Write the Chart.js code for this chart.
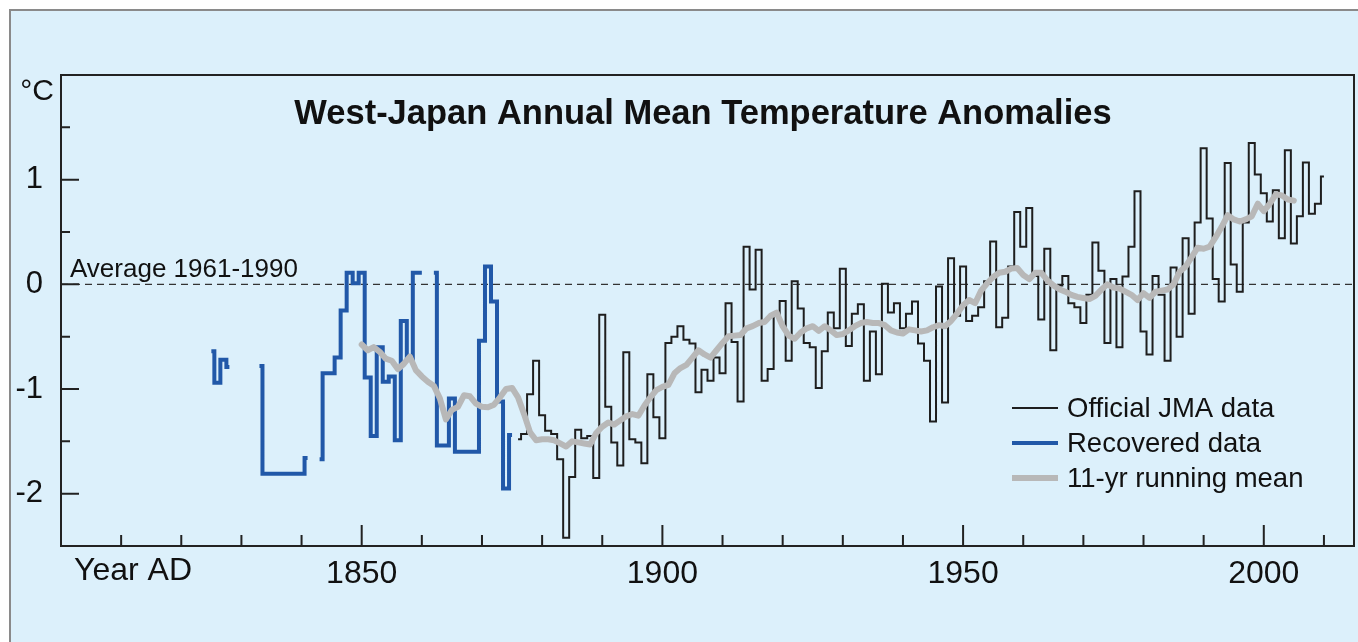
<!DOCTYPE html>
<html>
<head>
<meta charset="utf-8">
<script src="https://cdn.jsdelivr.net/npm/chart.js@4.4.1/dist/chart.umd.min.js"></script>
<style>
  html, body { margin: 0; padding: 0; background: #fff; }
  #wrap { width: 1358px; height: 642px; }
</style>
</head>
<body>
<div id="wrap"><canvas id="chart" width="1358" height="642"></canvas></div>
<script>
// West-Japan annual mean temperature anomalies (deg C, vs 1961-1990)

const FONT = "'Liberation Sans', Arial, Helvetica, sans-serif";
const BG = '#dcf0fb';
const BLUE = '#2158a8';
const GRAY = '#b8b8b8';
const BLACK = '#1e1e1e';

// recovered data 1825-1875 (null = no data)
const recoveredStart = 1825;
const recoveredValues = [
  -0.64, -0.94, -0.72, -0.79, null, null, null, null, -0.78, -1.81,
  -1.81, -1.81, -1.81, -1.81, -1.81, -1.81, -1.66, null, -1.67, -0.85,
  -0.85, -0.70, -0.25, 0.11, 0.01, 0.11, -0.89, -1.45, -0.60, -0.93,
  -0.88, -1.49, -0.35, -0.71, 0.11, 0.11, null, 0.11, -1.54, -1.54,
  -1.09, -1.60, -1.60, -1.60, -1.60, -0.54, 0.17, -0.165, -1.12, -1.95,
  -1.44
];

// official JMA data 1876-2010
const jmaStart = 1876;
const jmaValues = [
  -1.48, -1.43, -1.05, -0.73,
  -1.25, -1.40, -1.43, -1.67, -2.42, -1.84, -1.39, -1.47, -1.45, -1.85,
  -0.29, -1.17, -1.51, -1.73, -0.65, -1.48, -1.51, -1.71, -0.86, -1.27,
  -1.47, -0.56, -0.50, -0.40, -0.53, -0.565, -1.03, -0.815, -0.92, -0.70,
  -0.85, -0.18, -0.55, -1.12, 0.36, -0.05, 0.33, -0.92, -0.81, -0.30,
  -0.16, -0.73, 0.03, -0.23, -0.56, -0.60, -0.99, -0.64, -0.27, -0.42,
  0.15, -0.59, -0.28, -0.19, -0.92, -0.45, -0.86, 0.005, -0.27, -0.18,
  -0.42, -0.28, -0.165, -0.565, -0.73, -1.31, -0.02, -1.13, 0.25, -0.30,
  0.17, -0.35, -0.30, -0.22, 0.03, 0.41, -0.41, -0.32, 0.17, 0.69,
  0.36, 0.73, 0.08, -0.335, 0.34, -0.63, -0.01, 0.08, -0.18, -0.22,
  -0.37, -0.10, 0.40, 0.13, -0.56, 0.05, -0.60, 0.075, 0.36, 0.89,
  -0.45, -0.67, 0.08, -0.10, -0.73, 0.16, -0.50, 0.44, -0.28, 0.59,
  1.30, 0.63, 0.05, -0.165, 1.16, 0.19, -0.07, 0.59, 1.35, 1.05,
  0.87, 0.60, 0.90, 0.44, 1.28, 0.39, 0.65, 1.165, 0.675, 0.77, 1.03
];

// 11-yr running mean 1850-2005
const meanStart = 1850;
const meanValues = [
  -0.575, -0.63, -0.60, -0.645, -0.71, -0.73, -0.81, -0.76, -0.69, -0.82,
  -0.88, -0.93, -0.97, -1.09, -1.29, -1.20, -1.17, -1.06, -1.07, -1.14,
  -1.17, -1.175, -1.15, -1.08, -1.00, -0.99, -1.08, -1.24, -1.415, -1.49,
  -1.48, -1.48, -1.49, -1.52, -1.55, -1.50, -1.51, -1.52, -1.53, -1.42,
  -1.36, -1.32, -1.34, -1.30, -1.26, -1.24, -1.255, -1.16, -1.08, -1.01,
  -0.98, -0.96, -0.85, -0.80, -0.77, -0.70, -0.63, -0.67, -0.70, -0.63,
  -0.56, -0.495, -0.49, -0.485, -0.42, -0.40, -0.37, -0.36, -0.30, -0.27,
  -0.40, -0.49, -0.52, -0.46, -0.42, -0.40, -0.445, -0.40, -0.44, -0.485,
  -0.475, -0.44, -0.40, -0.37, -0.36, -0.37, -0.37, -0.39, -0.44, -0.46,
  -0.47, -0.43, -0.44, -0.45, -0.44, -0.41, -0.39, -0.40, -0.35, -0.28,
  -0.20, -0.15, -0.18, -0.06, 0.01, 0.07, 0.11, 0.12, 0.15, 0.155,
  0.09, 0.05, 0.11, 0.11, 0.04, -0.01, -0.046, -0.07, -0.10, -0.12,
  -0.13, -0.14, -0.11, -0.05, 0.00, -0.03, -0.04, -0.07, -0.10, -0.15,
  -0.085, -0.13, -0.07, -0.06, -0.05, 0.00, 0.12, 0.17, 0.26, 0.35,
  0.34, 0.36, 0.45, 0.55, 0.66, 0.62, 0.60, 0.62, 0.65, 0.77,
  0.70, 0.77, 0.86, 0.85, 0.81, 0.80
];

const xTicksMajor = [1850, 1900, 1950, 2000];
const yTickLabels = [1, 0, -1, -2];

const toPoints = (start, values) => values.map((v, i) => ({ x: start + i, y: v }));

const legendItems = [
  { text: 'Official JMA data', color: BLACK, width: 2 },
  { text: 'Recovered data', color: BLUE, width: 4 },
  { text: '11-yr running mean', color: GRAY, width: 6 }
];

const decor = {
  id: 'decor',
  beforeDraw(chart) {
    const ctx = chart.ctx;
    ctx.save();
    ctx.fillStyle = '#fff';
    ctx.fillRect(0, 0, chart.width, chart.height);
    ctx.fillStyle = BG;
    ctx.fillRect(10, 10, chart.width - 10, chart.height - 10);
    ctx.strokeStyle = '#8a8a8a';
    ctx.lineWidth = 2;
    ctx.beginPath();
    ctx.moveTo(10, chart.height);
    ctx.lineTo(10, 10);
    ctx.lineTo(chart.width, 10);
    ctx.stroke();
    ctx.restore();
  },
  beforeDatasetsDraw(chart) {
    const { ctx, chartArea, scales } = chart;
    const y0 = scales.y.getPixelForValue(0);
    ctx.save();
    ctx.strokeStyle = '#333';
    ctx.lineWidth = 1.3;
    ctx.setLineDash([7, 5]);
    ctx.beginPath();
    ctx.moveTo(chartArea.left, y0);
    ctx.lineTo(chartArea.right, y0);
    ctx.stroke();
    ctx.restore();
  },
  afterDraw(chart) {
    const { ctx, chartArea: a, scales } = chart;
    ctx.save();
    // frame
    ctx.strokeStyle = '#222';
    ctx.lineWidth = 2;
    ctx.strokeRect(a.left, a.top, a.right - a.left, a.bottom - a.top);

    // inner ticks
    ctx.lineWidth = 2;
    ctx.beginPath();
    for (let yr = 1810; yr <= 2010; yr += 10) {
      const px = scales.x.getPixelForValue(yr);
      const len = yr % 50 === 0 ? 21 : 11;
      ctx.moveTo(px, a.bottom);
      ctx.lineTo(px, a.bottom - len);
    }
    for (let v = -2; v <= 1.5; v += 0.5) {
      const py = scales.y.getPixelForValue(v);
      const len = Number.isInteger(v) ? 18 : 9;
      ctx.moveTo(a.left, py);
      ctx.lineTo(a.left + len, py);
    }
    ctx.stroke();

    // texts
    ctx.fillStyle = '#111';
    ctx.textBaseline = 'alphabetic';
    ctx.font = 'bold 34.5px ' + FONT;
    ctx.textAlign = 'center';
    ctx.fillText('West-Japan Annual Mean Temperature Anomalies', 703, 124);

    ctx.font = '30px ' + FONT;
    ctx.textAlign = 'right';
    ctx.fillText('\u00B0C', 54, 100);

    ctx.font = '32px ' + FONT;
    ctx.textAlign = 'left';
    ctx.fillText('Year AD', 74, 580);

    ctx.font = '26px ' + FONT;
    ctx.fillText('Average 1961-1990', 70, 277);

    // legend
    ctx.font = '27.5px ' + FONT;
    ctx.textBaseline = 'middle';
    legendItems.forEach((it, i) => {
      const ly = 408 + i * 35;
      ctx.strokeStyle = it.color;
      ctx.lineWidth = it.width;
      ctx.beginPath();
      ctx.moveTo(1012, ly);
      ctx.lineTo(1058, ly);
      ctx.stroke();
      ctx.fillStyle = '#111';
      ctx.fillText(it.text, 1067, ly + 1);
    });
    ctx.restore();
  }
};

const ctx = document.getElementById('chart').getContext('2d');
new Chart(ctx, {
  type: 'line',
  data: {
    datasets: [
      {
        label: '11-yr running mean',
        data: toPoints(meanStart, meanValues),
        borderColor: GRAY, borderWidth: 6, pointRadius: 0,
        borderCapStyle: 'round', borderJoinStyle: 'round', order: 0
      },
      {
        label: 'Recovered data',
        data: toPoints(recoveredStart, recoveredValues),
        borderColor: BLUE, borderWidth: 4, pointRadius: 0,
        stepped: 'middle', spanGaps: false, order: 1
      },
      {
        label: 'Official JMA data',
        data: toPoints(jmaStart, jmaValues),
        borderColor: BLACK, borderWidth: 2, pointRadius: 0,
        stepped: 'middle', order: 2
      }
    ]
  },
  options: {
    responsive: false,
    animation: false,
    devicePixelRatio: 1,
    layout: { padding: { top: 75, right: 2, left: 0, bottom: 0 } },
    scales: {
      x: {
        type: 'linear', min: 1800, max: 2015,
        afterFit: (s) => { s.height = 96; },
        grid: { display: false }, border: { display: false },
        ticks: {
          stepSize: 10, autoSkip: false, maxRotation: 0, padding: 4,
          color: '#111', font: { size: 32, family: FONT, lineHeight: 1 },
          callback: (v) => xTicksMajor.includes(v) ? String(v) : ''
        }
      },
      y: {
        min: -2.5, max: 2,
        afterFit: (s) => { s.width = 61; },
        grid: { display: false }, border: { display: false },
        ticks: {
          stepSize: 0.5, padding: 10,
          color: '#111', font: { size: 31, family: FONT, lineHeight: 1 },
          callback: (v) => yTickLabels.includes(v) ? String(v) : ''
        }
      }
    },
    plugins: { legend: { display: false }, tooltip: { enabled: false } }
  },
  plugins: [decor]
});
</script>
</body>
</html>
